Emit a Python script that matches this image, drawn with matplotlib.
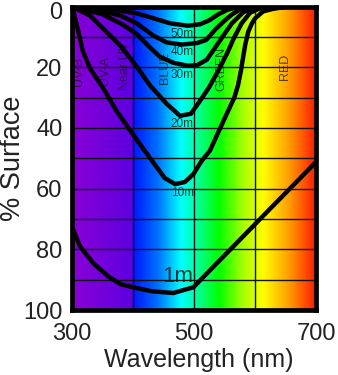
import matplotlib
matplotlib.use("Agg")
import matplotlib.pyplot as plt
import matplotlib.transforms as mtransforms
import numpy as np
from matplotlib.colors import LinearSegmentedColormap

plt.rcParams["font.family"] = ["Liberation Sans", "DejaVu Sans"]

# light remaining (% of surface) vs wavelength, per depth
wl_1m = [300, 313, 335, 360, 380, 400, 430, 466, 499, 531, 570, 620, 662, 700]
pct_1m = [72.5, 79.0, 84.6, 89.0, 91.5, 92.5, 93.8, 94.4, 92.5, 85.9, 77.9, 67.6, 59.0, 51.2]

wl_10m = [300, 302, 313, 318, 330, 351, 373, 403, 430, 452, 469, 485, 499, 512, 526,
          543, 559, 566, 572, 577, 581, 584, 589, 595, 600, 613, 628, 645, 660]
pct_10m = [0, 1.1, 10.4, 14.8, 20.5, 26.8, 34.4, 43.0, 50.5, 56.5, 58.5, 57.8, 55.2, 51.0, 47.5,
           40.0, 33.0, 30.0, 26.0, 21.0, 16.0, 12.5, 8.2, 5.5, 3.9, 1.6, 0.8, 0.2, 0]

wl_20m = [300, 330, 350, 380, 405, 428, 455, 477, 495, 510, 525, 540, 554, 565, 578, 592, 610, 620]
pct_20m = [0, 3.0, 7.0, 13.0, 19.5, 26.0, 32.0, 36.0, 35.3, 31.0, 26.5, 21.0, 15.5, 10.5, 5.5, 2.0, 0.4, 0]

wl_30m = [300, 350, 384, 406, 428, 444, 466, 490, 505, 521, 537, 550, 562, 581, 600, 615]
pct_30m = [0, 2.5, 6.0, 9.0, 13.5, 16.5, 18.5, 19.5, 19.3, 17.5, 12.8, 9.0, 5.5, 1.8, 0.3, 0]

wl_40m = [300, 350, 380, 406, 433, 455, 480, 505, 520, 535, 548, 562, 575, 590]
pct_40m = [0, 1.5, 3.0, 5.5, 9.5, 11.8, 12.5, 12.0, 11.0, 7.5, 5.0, 2.6, 1.0, 0]

wl_50m = [300, 360, 406, 433, 461, 490, 510, 525, 540, 555, 570, 585]
pct_50m = [0, 0.8, 2.2, 3.8, 5.5, 6.3, 5.8, 4.5, 2.5, 1.0, 0.3, 0]

depth_names = ["1m", "10m", "20m", "30m", "40m", "50m"]
band_names = ["UV-B", "UV-A", "Near UV", "BLUE", "GREEN", "RED"]

# background spectrum colour stops (wavelength, colour)
spec_wl = [300, 400, 400, 440, 478, 505, 540, 580, 612, 655, 700]
spec_col = ["#8a00d6", "#5c00e0", "#0014ff", "#0070ff", "#00ffff", "#00ff98",
            "#00ff00", "#a8ff00", "#ffff00", "#ff9c00", "#ff1400"]

x_major = [300, 500, 700]
x_minor = [400, 600]
y_major = [0, 20, 40, 60, 80, 100]
y_minor = [10, 30, 50, 70, 90]

fig = plt.figure(figsize=(3.38, 3.75), dpi=100)
ax = fig.add_axes([0.213, 0.1733, 0.722, 0.809])

stops = [((w - 300) / 400, c) for w, c in zip(spec_wl, spec_col)]
cmap = LinearSegmentedColormap.from_list("spec", stops, N=1024)
ax.imshow(np.linspace(0, 1, 1024)[None, :], extent=(300, 700, 100, 0),
          cmap=cmap, aspect="auto", zorder=0, interpolation="bilinear")

ax.set_xlim(300, 700)
ax.set_ylim(100, 0)
ax.set_xticks(x_major)
ax.set_xticks(x_minor, minor=True)
ax.set_yticks(y_major)
ax.set_yticks(y_minor, minor=True)
ax.set_axisbelow("line")
ax.grid(True, which="both", color="#111111", linewidth=1.0)
ax.tick_params(which="both", length=0)
ax.tick_params(axis="x", labelsize=17, pad=9, labelcolor="#222222")
ax.tick_params(axis="y", labelsize=17, pad=7, labelcolor="#222222")
for sp in ax.spines.values():
    sp.set_linewidth(3.4)
    sp.set_color("black")
    sp.set_zorder(5)

# nudge the top "0" label down so it stays inside the figure
top_lbl = ax.get_yticklabels()[0]
top_lbl.set_transform(top_lbl.get_transform()
                      + mtransforms.ScaledTranslation(0, -3 / 72, fig.dpi_scale_trans))

curves = [(wl_1m, pct_1m), (wl_10m, pct_10m), (wl_20m, pct_20m),
          (wl_30m, pct_30m), (wl_40m, pct_40m), (wl_50m, pct_50m)]
for xs, ys in curves:
    ax.plot(xs, ys, color="black", linewidth=3.2, solid_joinstyle="round",
            solid_capstyle="round", zorder=3)

lab_pos = [(474, 88.9), (481, 61.3), (481, 38.7), (481, 22.6), (481, 15.1), (481, 8.9)]
for name, (x, y) in zip(depth_names, lab_pos):
    fs = 16 if name == "1m" else 8.5
    ax.text(x, y, name, fontsize=fs, ha="center", va="center",
            color="#1a1a1a", alpha=0.85, zorder=2)

band_pos = [(311, 21.5), (354, 21.0), (387, 19.7), (452, 20.0), (545, 20.4), (649, 19.7)]
for name, (x, y) in zip(band_names, band_pos):
    ax.text(x, y, name, fontsize=9, rotation=90, ha="center", va="center",
            color="#1a1a1a", alpha=0.75, zorder=2)

ax.set_xlabel("Wavelength (nm)", fontsize=18, color="#222222")
ax.xaxis.set_label_coords(0.52, -0.125)
ax.set_ylabel("% Surface", fontsize=19.5, color="#222222")
ax.yaxis.set_label_coords(-0.19, 0.5)

fig.savefig("out.png", dpi=100)
plt.close(fig)
